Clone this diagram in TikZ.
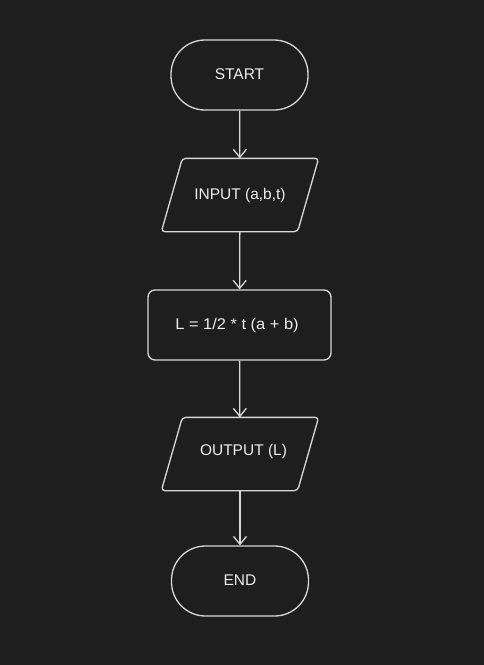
\documentclass[tikz,border=0pt]{standalone}
\usepackage{fontspec}
\setmainfont{Liberation Sans}
\usetikzlibrary{arrows.meta}
\definecolor{bg}{HTML}{1E1E1E}
\definecolor{fg}{HTML}{D8D8D8}
\definecolor{txt}{HTML}{EEEEEE}
\tikzset{
  base/.style={draw=fg, line width=1.3pt, text=txt, inner sep=0pt},
  terminal/.style={base, rounded corners=34pt, minimum width=137pt, minimum height=70pt},
  process/.style={base, rounded corners=7pt, minimum width=183pt, minimum height=70pt},
  io/.style={base, draw=none, minimum width=135pt, minimum height=72pt},
  ioshape/.style={draw=fg, line width=1.3pt, rounded corners=3.5pt},
  lbl/.style={text=txt, font=\fontsize{15.5}{18}\selectfont, inner sep=0pt, anchor=base},
  flow/.style={draw=fg, line width=1.3pt, -{Straight Barb[length=8pt,width=13pt,line width=1.3pt]}}
}
\begin{document}
\begin{tikzpicture}[x=1pt,y=-1pt]
\fill[bg] (0,0) rectangle (484,665);
\useasboundingbox (0,0) rectangle (484,665);

\node[terminal] (start) at (239.5,75) {};
\node[lbl] (startt) at (239.5,79) {START};

\node[io] (input) at (240,195) {};
\draw[ioshape] ([xshift=10.5pt]input.north west) -- ([xshift=10.5pt]input.north east)
  -- ([xshift=-10.5pt]input.south east) -- ([xshift=-10.5pt]input.south west) -- cycle;
\node[lbl] (inputt) at (240,199) {INPUT (a,b,t)};

\node[process] (calc) at (239.5,325) {};
\node[lbl, xscale=1.06] (calct) at (237,329) {L = 1/2 * t (a + b)};

\node[io] (output) at (240,454) {};
\draw[ioshape] ([xshift=10.5pt]output.north west) -- ([xshift=10.5pt]output.north east)
  -- ([xshift=-10.5pt]output.south east) -- ([xshift=-10.5pt]output.south west) -- cycle;
\node[lbl] (outputt) at (243.5,455) {OUTPUT (L)};

\node[terminal] (end) at (240,581) {};
\node[lbl] (endt) at (240,585) {END};

\draw[flow] (start) -- (input);
\draw[flow] (input) -- (calc);
\draw[flow] (calc) -- (output);
\draw[flow] (output) -- (end);
\end{tikzpicture}
\end{document}
